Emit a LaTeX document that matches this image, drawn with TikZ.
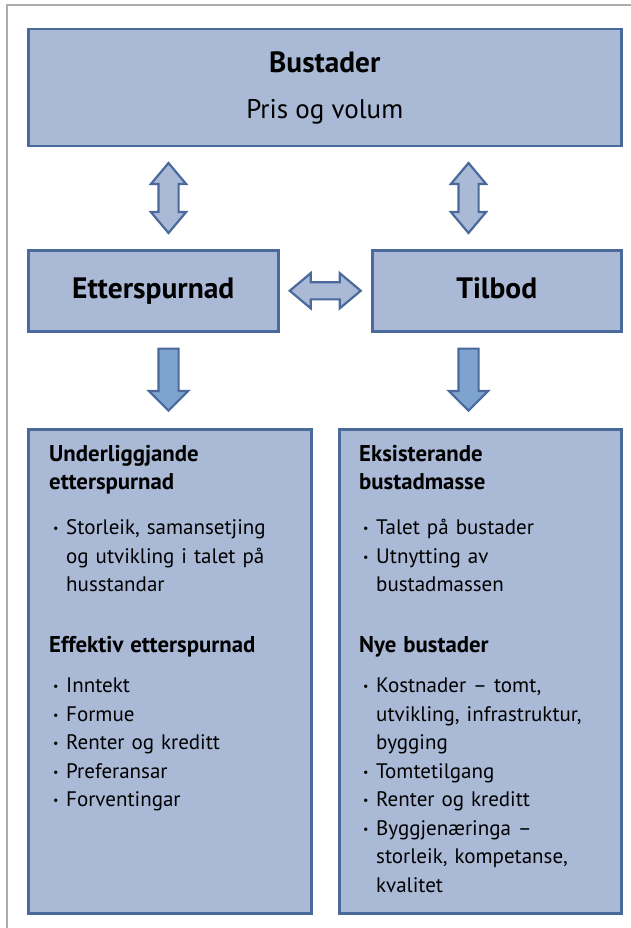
\documentclass[tikz,border=0pt]{standalone}
\usepackage{fontspec}
\setmainfont{PT Sans}
\usetikzlibrary{shapes.arrows,positioning,calc}
\definecolor{boxfill}{HTML}{A9B9D6}
\definecolor{boxline}{HTML}{4A6A9C}
\definecolor{downfill}{HTML}{7FA3CF}
\tikzset{
    box/.style={draw=boxline, fill=boxfill, line width=2.5pt, inner sep=0, anchor=north west},
    mid box/.style={box, minimum height=81pt, text height=21pt, text depth=6pt, font=\bfseries\fontsize{29.5}{29.5}\selectfont},
    both arrow/.style={double arrow, draw=boxline, fill=boxfill, line width=2.2pt, double arrow tip angle=80},
    down arrow/.style={single arrow, draw=boxline, fill=downfill, line width=2.2pt, inner sep=9pt, shape border rotate=270, single arrow head extend=9.5pt, minimum height=62pt, anchor=tail},
    frame/.style={draw=gray!65, line width=1.5pt},
    txt/.style={align=left, text width=262pt, inner sep=0, anchor=north west, font=\fontsize{21}{28.5}\selectfont}
}
\newcommand{\bul}{\makebox[17pt][l]{\hspace{4pt}\raisebox{2pt}{\fontsize{12}{12}\selectfont\textbullet}}}
\newcommand{\ind}{\hspace*{17pt}}
\newcommand{\head}[1]{{\bfseries\fontsize{22.8}{28.5}\selectfont #1}}

\begin{document}
\begin{tikzpicture}[x=1pt,y=-1pt]
    \useasboundingbox (0,0) rectangle (631,928);
    \draw[frame] (7,940) -- (7,5) -- (640,5);

    % boxes
    \node[box, minimum width=593pt, minimum height=117pt, align=center, font=\fontsize{27}{27}\selectfont] (bustader) at (27,28) {{\bfseries\fontsize{29.3}{29}\selectfont Bustader}\\[19pt]Pris og volum};
    \node[mid box, minimum width=250pt] (etter) at (27,249) {Etterspurnad};
    \node[mid box, minimum width=249pt] (tilbod) at (371,249) {Tilbod};
    \node[box, minimum width=283pt, minimum height=484pt] (under) at (27,428) {};
    \node[box, minimum width=282pt, minimum height=484pt] (eksist) at (338,428) {};

    % arrows
    \node[both arrow, shape border rotate=90, inner sep=9pt, double arrow head extend=7.5pt, minimum height=70pt] (upL) at ($(etter.north west)+(141.5,-51)$) {};
    \node[both arrow, shape border rotate=90, inner sep=9pt, double arrow head extend=7.5pt, minimum height=70pt] (upR) at ($(tilbod.north west)+(97.5,-51)$) {};
    \node[both arrow, inner sep=7.5pt, double arrow head extend=9pt, minimum height=71pt] (mid) at ($(etter.east)!0.5!(tilbod.west)$) {};
    \node[down arrow] (downL) at ($(etter.south west)+(141.5,15)$) {};
    \node[down arrow] (downR) at ($(tilbod.south west)+(97.5,15)$) {};

    % texts
    \node[txt] (underTxt) at ([xshift=22pt, yshift=-17pt]under.north west) {%
        \head{Underliggjande}\\
        \head{etterspurnad}\\[16.5pt]
        \bul Storleik, samansetjing\\
        \ind og utvikling i talet på\\
        \ind husstandar\\[32.5pt]
        \head{Effektiv etterspurnad}\\[11.5pt]
        \bul Inntekt\\
        \bul Formue\\
        \bul Renter og kreditt\\
        \bul Preferansar\\
        \bul Forventingar};
    \node[txt] (eksistTxt) at ([xshift=21pt, yshift=-17pt]eksist.north west) {%
        \head{Eksisterande}\\
        \head{bustadmasse}\\[16.5pt]
        \bul Talet på bustader\\
        \bul Utnytting av\\
        \ind bustadmassen\\[32.5pt]
        \head{Nye bustader}\\[11.5pt]
        \bul Kostnader – tomt,\\
        \ind utvikling, infrastruktur,\\
        \ind bygging\\
        \bul Tomtetilgang\\
        \bul Renter og kreditt\\
        \bul Byggjenæringa –\\
        \ind storleik, kompetanse,\\
        \ind kvalitet};
\end{tikzpicture}
\end{document}
